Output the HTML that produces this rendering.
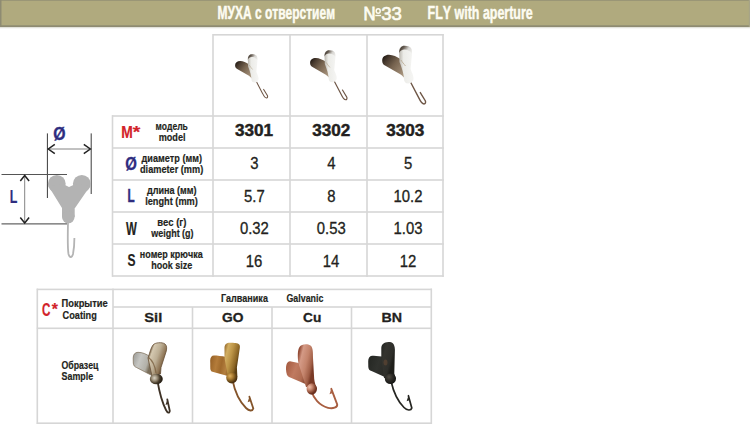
<!DOCTYPE html>
<html><head><meta charset="utf-8"><style>
html,body{margin:0;padding:0;background:#fff;}
svg{display:block;}
text{font-family:"Liberation Sans", sans-serif;font-kerning:none;}
</style></head><body>
<svg width="750" height="424" viewBox="0 0 750 424">
<rect x="0" y="0" width="750" height="424" fill="#ffffff"/>
<rect x="0" y="0" width="750" height="27" fill="#b0aa7e"/>
<rect x="0" y="0" width="750" height="1" fill="#9a9676"/>
<rect x="0" y="25.3" width="750" height="2" fill="#8e8b72"/><rect x="0" y="27.3" width="750" height="1" fill="#e4e4de"/>
<rect x="0" y="0" width="1.5" height="27" fill="#8e8b72"/>
<rect x="748.8" y="0" width="1.2" height="27" fill="#a7a488"/>
<rect x="213" y="34.0" width="230.8" height="1.6" fill="#d6d6d6"/>
<rect x="112" y="115.2" width="331.8" height="1.6" fill="#d6d6d6"/>
<rect x="112" y="147.2" width="331.8" height="1.6" fill="#d6d6d6"/>
<rect x="112" y="179.2" width="331.8" height="1.6" fill="#d6d6d6"/>
<rect x="112" y="211.2" width="331.8" height="1.6" fill="#d6d6d6"/>
<rect x="112" y="243.2" width="331.8" height="1.6" fill="#d6d6d6"/>
<rect x="112" y="275.2" width="331.8" height="1.6" fill="#d6d6d6"/>
<rect x="212.2" y="34" width="1.6" height="242.8" fill="#d6d6d6"/>
<rect x="289.2" y="34" width="1.6" height="242.8" fill="#d6d6d6"/>
<rect x="366.2" y="34" width="1.6" height="242.8" fill="#d6d6d6"/>
<rect x="442.2" y="34" width="1.6" height="242.8" fill="#d6d6d6"/>
<rect x="111.7" y="115.2" width="1.6" height="161.60000000000002" fill="#d6d6d6"/>
<rect x="36.8" y="288.59999999999997" width="395.2" height="1.6" fill="#d6d6d6"/>
<rect x="36.8" y="327.5" width="395.2" height="1.6" fill="#d6d6d6"/>
<rect x="36.8" y="422.4" width="395.2" height="1.6" fill="#d6d6d6"/>
<rect x="113" y="306.2" width="319" height="1.6" fill="#d6d6d6"/>
<rect x="36.5" y="288.6" width="1.6" height="135.39999999999998" fill="#d6d6d6"/>
<rect x="112.2" y="288.6" width="1.6" height="135.39999999999998" fill="#d6d6d6"/>
<rect x="430.5" y="288.6" width="1.6" height="135.39999999999998" fill="#d6d6d6"/>
<rect x="191.7" y="307" width="1.6" height="117" fill="#d6d6d6"/>
<rect x="271.2" y="307" width="1.6" height="117" fill="#d6d6d6"/>
<rect x="350.7" y="307" width="1.6" height="117" fill="#d6d6d6"/>

<g stroke="#3a3a3a" fill="none">
<line x1="47.4" y1="133.4" x2="47.4" y2="198" stroke-width="1"/>
<line x1="91.2" y1="133.4" x2="91.2" y2="194" stroke-width="1"/>
<line x1="48" y1="149" x2="90.6" y2="149" stroke="#777" stroke-width="0.9"/>
<polyline points="54.8,144.4 48.3,149 54.8,153.6" stroke-width="1.5" stroke="#222"/>
<polyline points="83.8,144.4 90.3,149 83.8,153.6" stroke-width="1.5" stroke="#222"/>
<line x1="1.5" y1="174.5" x2="67" y2="174.5" stroke="#555" stroke-width="1"/>
<line x1="1.5" y1="223.9" x2="67" y2="223.9" stroke="#666" stroke-width="1.2"/>
<line x1="24.7" y1="175.2" x2="24.7" y2="223" stroke="#777" stroke-width="0.9"/>
<polyline points="20.3,181 24.7,175.5 29.1,181" stroke-width="1.5" stroke="#222"/>
<polyline points="20.3,217.5 24.7,223 29.1,217.5" stroke-width="1.5" stroke="#222"/>
</g>
<g fill="#b3b3b3"><circle cx="56.8" cy="183.8" r="8.9"/><circle cx="81.8" cy="183.8" r="8.9"/>
<polygon points="48.1,185.5 64,184.5 69,187 74.5,184.5 90.5,185.5 75,208 62,208"/>
<rect x="62" y="203" width="12.7" height="14"/><circle cx="68.3" cy="217" r="6.3"/></g>
<path d="M68,223 C67.7,235 67.5,248 68.5,254 C69.5,258 72,258 73,254 C74,249 74.4,243 74.4,238" fill="none" stroke="#b4b4b4" stroke-width="1.8"/>

<defs><linearGradient id="g1" gradientUnits="userSpaceOnUse" x1="133" y1="360" x2="150" y2="366"><stop offset="0" stop-color="#a4a4a0"/><stop offset="0.35" stop-color="#c6c6c2"/><stop offset="0.8" stop-color="#b2b0a8"/><stop offset="1" stop-color="#7a6e5a"/></linearGradient>
<linearGradient id="g2" gradientUnits="userSpaceOnUse" x1="150" y1="350" x2="167" y2="356"><stop offset="0" stop-color="#6a5438"/><stop offset="0.15" stop-color="#d4c8b0"/><stop offset="0.5" stop-color="#bcae94"/><stop offset="0.85" stop-color="#8a7050"/><stop offset="1" stop-color="#4e3a24"/></linearGradient>
<radialGradient id="g3" gradientUnits="userSpaceOnUse" cx="154.5" cy="378" r="7"><stop offset="0" stop-color="#d8d2c4"/><stop offset="0.4" stop-color="#9a8e78"/><stop offset="0.75" stop-color="#4a3e2c"/><stop offset="1" stop-color="#2a2218"/></radialGradient>
<linearGradient id="g4" gradientUnits="userSpaceOnUse" x1="210" y1="364" x2="230" y2="368"><stop offset="0" stop-color="#9a6428"/><stop offset="0.3" stop-color="#b47c3a"/><stop offset="0.55" stop-color="#a06a2c"/><stop offset="0.8" stop-color="#b48040"/><stop offset="1" stop-color="#8a5a20"/></linearGradient>
<linearGradient id="g5" gradientUnits="userSpaceOnUse" x1="224" y1="350" x2="240" y2="354"><stop offset="0" stop-color="#9a7030"/><stop offset="0.2" stop-color="#d2ae62"/><stop offset="0.5" stop-color="#bc9446"/><stop offset="0.85" stop-color="#8a6424"/><stop offset="1" stop-color="#5a3e12"/></linearGradient>
<radialGradient id="g6" gradientUnits="userSpaceOnUse" cx="230" cy="376" r="7"><stop offset="0" stop-color="#dcb060"/><stop offset="0.45" stop-color="#a87a30"/><stop offset="0.8" stop-color="#6a4a18"/><stop offset="1" stop-color="#4a3010"/></radialGradient>
<linearGradient id="g7" gradientUnits="userSpaceOnUse" x1="286" y1="368" x2="307" y2="376"><stop offset="0" stop-color="#a85e44"/><stop offset="0.4" stop-color="#c07a60"/><stop offset="0.8" stop-color="#b06c52"/><stop offset="1" stop-color="#8a4a34"/></linearGradient>
<linearGradient id="g8" gradientUnits="userSpaceOnUse" x1="298" y1="356" x2="315" y2="360"><stop offset="0" stop-color="#944c36"/><stop offset="0.2" stop-color="#d49a86"/><stop offset="0.55" stop-color="#c4846c"/><stop offset="0.85" stop-color="#a05e46"/><stop offset="1" stop-color="#7a3a26"/></linearGradient>
<radialGradient id="g9" gradientUnits="userSpaceOnUse" cx="309.5" cy="387" r="7"><stop offset="0" stop-color="#eec0ac"/><stop offset="0.4" stop-color="#c88870"/><stop offset="0.8" stop-color="#8a4a34"/><stop offset="1" stop-color="#6a3020"/></radialGradient>
<linearGradient id="g10" gradientUnits="userSpaceOnUse" x1="368" y1="364" x2="386" y2="370"><stop offset="0" stop-color="#262824"/><stop offset="0.5" stop-color="#30322e"/><stop offset="1" stop-color="#2a2a26"/></linearGradient>
<linearGradient id="g11" gradientUnits="userSpaceOnUse" x1="381" y1="350" x2="395" y2="354"><stop offset="0" stop-color="#262824"/><stop offset="0.3" stop-color="#34342f"/><stop offset="0.8" stop-color="#2e2e2a"/><stop offset="1" stop-color="#1e1e1a"/></linearGradient>
<radialGradient id="g12" gradientUnits="userSpaceOnUse" cx="389" cy="377" r="7"><stop offset="0" stop-color="#4e4a42"/><stop offset="0.5" stop-color="#2e2c28"/><stop offset="1" stop-color="#161614"/></radialGradient>
<linearGradient id="g13" gradientUnits="userSpaceOnUse" x1="383" y1="57" x2="406" y2="75"><stop offset="0" stop-color="#221a14"/><stop offset="0.18" stop-color="#4a3c30"/><stop offset="0.45" stop-color="#76634f"/><stop offset="0.8" stop-color="#9a8670"/><stop offset="1" stop-color="#b4a48c"/></linearGradient>
<linearGradient id="g14" gradientUnits="userSpaceOnUse" x1="399" y1="47" x2="411" y2="55"><stop offset="0" stop-color="#2a221c"/><stop offset="0.3" stop-color="#6a6056"/><stop offset="0.6" stop-color="#d6d4d0"/><stop offset="1" stop-color="#f2f2f0"/></linearGradient>
<linearGradient id="g15" gradientUnits="userSpaceOnUse" x1="399" y1="60" x2="412" y2="60"><stop offset="0" stop-color="#b8b4ac"/><stop offset="0.35" stop-color="#ecece8"/><stop offset="1" stop-color="#f4f4f2"/></linearGradient></defs><path d="M157.5,381 C159,390 162,402 166,410 C167.5,413 169.5,413.5 169.8,411 L167.3,399.4" fill="none" stroke="#3e3226" stroke-width="1.8" stroke-linecap="round"/><path d="M167.3,399.4 L165.5,404.9 L168.10000000000002,403.9 Z" fill="#3e3226"/>
<path d="M150,357 C147,354 142,352.3 138,352.3 C135,352.3 133.2,354.5 133.2,358 L133.3,363 C133.5,365.5 134.5,366.8 136.5,367.5 L148.6,373.8 L153,376 Z" fill="url(#g1)" stroke="#7a6a54" stroke-width="0.7"/>
<path d="M148,358 C150,352 151,347.5 153,345 C155,342.5 162,341.8 165,344 C167,345.5 166.8,348.5 166.3,351 L161,367.5 L160.5,374 L152,376 Z" fill="url(#g2)" stroke="#6a5238" stroke-width="0.8"/>
<path d="M148.5,357.5 C152,360 155,366 156,373" fill="none" stroke="#7a6040" stroke-width="1.2" opacity="0.8"/>
<ellipse cx="156.3" cy="379" rx="6.5" ry="5.2" fill="url(#g3)"/>
<path d="M232.5,380 C234.5,390 239,401 246,408 C249,411 252.5,411.5 253.3,408.5 L249.4,396.7" fill="none" stroke="#84542a" stroke-width="1.8" stroke-linecap="round"/><path d="M249.4,396.7 L247.6,402.2 L250.20000000000002,401.2 Z" fill="#84542a"/>
<path d="M226,357 C222,356 217,355.5 214,355.5 C211.5,355.5 210.2,357.5 210.2,360.5 L210.3,368.5 C210.5,370.5 211.2,371.4 212.5,371.8 L226.8,375.8 L230,376 Z" fill="url(#g4)"/>
<path d="M224.5,358 L224.5,348 C224.5,344.5 226.5,342.8 230,342.8 C234,342.8 238,343 239.2,344.5 C240,345.5 240,346.5 239.8,348 L236.9,367.5 L237.4,377 L228,377 Z" fill="url(#g5)"/>
<ellipse cx="231.8" cy="377.8" rx="5.6" ry="5.6" fill="url(#g6)"/>
<path d="M311.5,391 C313.5,398 319,405.5 328,407.8 C333,409 337.5,407.5 337.2,404.5 L331.3,388.8" fill="none" stroke="#a85e40" stroke-width="1.9" stroke-linecap="round"/><path d="M331.3,388.8 L329.5,394.3 L332.1,393.3 Z" fill="#a85e40"/>
<path d="M298.5,363 L290,361.3 C287,361.5 285.8,365 286,369.5 C286.2,373 287,376 289,377 L306.6,384.5 L310,380 Z" fill="url(#g7)"/>
<path d="M298.4,363 C297.5,356 297.5,350 299.5,347 C301.5,344 307,343.2 310.5,345.5 C313,347.5 313,352 313,358 L314.2,379 C314.6,383 316,386 317,389 L306,387 Z" fill="url(#g8)"/>
<ellipse cx="311.8" cy="389" rx="5.2" ry="5.8" fill="url(#g9)"/>
<path d="M391,381 C393,390 397.5,401 404,407.5 C407,410.5 411,411 411.8,408 L408.4,395.7" fill="none" stroke="#262622" stroke-width="1.7" stroke-linecap="round"/><path d="M408.4,395.7 L406.59999999999997,401.2 L409.2,400.2 Z" fill="#262622"/>
<path d="M382,356.5 C378,356 374,355.8 372,355.8 C369.5,356 368.2,358.5 368.2,361.5 L368.3,367 C368.5,369.5 369.5,370.5 371.5,371 L384.8,377 L388,376 Z" fill="url(#g10)"/>
<path d="M381.3,358 L381.3,348 C381.5,344.5 384,342.3 388.4,342.1 C392,342 394.8,343.5 394.9,349.8 L394.3,373.4 L396,379 L384,378 Z" fill="url(#g11)"/>
<ellipse cx="385.5" cy="362.5" rx="2" ry="3" fill="#6a4a34" opacity="0.55"/>
<ellipse cx="390.4" cy="378.7" rx="5.6" ry="5.3" fill="url(#g12)"/>
<g transform="translate(254.6,82.6) scale(0.75) translate(-408.2,-83.5)"><path d="M410.5,82 L418.8,97.9 C420.5,101.5 422.5,104 424,104 C425.5,104 425.8,102.5 425.4,101 L420.3,92.6" fill="none" stroke="#6e5646" stroke-width="1.4" stroke-linecap="round"/>
<path d="M400.5,59 C397,57 393,54.8 389,54.8 C385,54.8 382.2,57 382.2,60.5 C382.2,63 383,64.5 385,65.5 L400.7,74.5 C402.5,76 404,77.5 405.2,78.5 L407,68 Z" fill="url(#g13)"/>
<path d="M399.5,62 L399.1,51 C399.2,47.5 401.5,45.8 404.4,45.8 C408,45.8 410.5,46.5 411.5,49 C412.3,51.5 412,54 411.8,56 L410.6,69 C411.5,72 413.5,75 413.5,78.3 C413.5,81.5 411,83.5 408.2,83.5 C405.5,83.5 404,81.5 404,79 C404,75 402,68 399.5,62 Z" fill="url(#g15)"/>
<path d="M399.2,53 C399.2,48.5 401.5,45.8 404.4,45.8 C408,45.8 410.5,46.5 411.5,49 C412,50.5 412,52 411.9,53.5 C410,50.5 407,49.5 404.5,49.5 C402,49.5 400,51 399.2,53 Z" fill="url(#g14)"/>
<path d="M401,60 C402,62 404,64 405.5,66" stroke="#b8a890" stroke-width="1" fill="none" opacity="0.8"/></g>
<g transform="translate(332.2,82.3) scale(0.85) translate(-408.2,-83.5)"><path d="M410.5,82 L418.8,97.9 C420.5,101.5 422.5,104 424,104 C425.5,104 425.8,102.5 425.4,101 L420.3,92.6" fill="none" stroke="#6e5646" stroke-width="1.4" stroke-linecap="round"/>
<path d="M400.5,59 C397,57 393,54.8 389,54.8 C385,54.8 382.2,57 382.2,60.5 C382.2,63 383,64.5 385,65.5 L400.7,74.5 C402.5,76 404,77.5 405.2,78.5 L407,68 Z" fill="url(#g13)"/>
<path d="M399.5,62 L399.1,51 C399.2,47.5 401.5,45.8 404.4,45.8 C408,45.8 410.5,46.5 411.5,49 C412.3,51.5 412,54 411.8,56 L410.6,69 C411.5,72 413.5,75 413.5,78.3 C413.5,81.5 411,83.5 408.2,83.5 C405.5,83.5 404,81.5 404,79 C404,75 402,68 399.5,62 Z" fill="url(#g15)"/>
<path d="M399.2,53 C399.2,48.5 401.5,45.8 404.4,45.8 C408,45.8 410.5,46.5 411.5,49 C412,50.5 412,52 411.9,53.5 C410,50.5 407,49.5 404.5,49.5 C402,49.5 400,51 399.2,53 Z" fill="url(#g14)"/>
<path d="M401,60 C402,62 404,64 405.5,66" stroke="#b8a890" stroke-width="1" fill="none" opacity="0.8"/></g>
<g transform="translate(408.2,83.5) scale(1.0) translate(-408.2,-83.5)"><path d="M410.5,82 L418.8,97.9 C420.5,101.5 422.5,104 424,104 C425.5,104 425.8,102.5 425.4,101 L420.3,92.6" fill="none" stroke="#6e5646" stroke-width="1.4" stroke-linecap="round"/>
<path d="M400.5,59 C397,57 393,54.8 389,54.8 C385,54.8 382.2,57 382.2,60.5 C382.2,63 383,64.5 385,65.5 L400.7,74.5 C402.5,76 404,77.5 405.2,78.5 L407,68 Z" fill="url(#g13)"/>
<path d="M399.5,62 L399.1,51 C399.2,47.5 401.5,45.8 404.4,45.8 C408,45.8 410.5,46.5 411.5,49 C412.3,51.5 412,54 411.8,56 L410.6,69 C411.5,72 413.5,75 413.5,78.3 C413.5,81.5 411,83.5 408.2,83.5 C405.5,83.5 404,81.5 404,79 C404,75 402,68 399.5,62 Z" fill="url(#g15)"/>
<path d="M399.2,53 C399.2,48.5 401.5,45.8 404.4,45.8 C408,45.8 410.5,46.5 411.5,49 C412,50.5 412,52 411.9,53.5 C410,50.5 407,49.5 404.5,49.5 C402,49.5 400,51 399.2,53 Z" fill="url(#g14)"/>
<path d="M401,60 C402,62 404,64 405.5,66" stroke="#b8a890" stroke-width="1" fill="none" opacity="0.8"/></g>
<text transform="translate(217.60,19.20) scale(0.6880,1)" font-size="17.44" font-weight="bold" font-style="normal" fill="#fdfcf2" stroke="#fdfcf2" stroke-width="0.45">МУХА с отверстием</text>
<text transform="translate(363.43,19.50) scale(0.9545,1)" font-size="17.44" font-weight="normal" font-style="normal" fill="#fdfcf2" stroke="#fdfcf2" stroke-width="0.8">N</text>
<text transform="translate(381.19,19.60) scale(1.0662,1)" font-size="17.48" font-weight="normal" font-style="normal" fill="#fdfcf2" stroke="#fdfcf2" stroke-width="0.6">33</text>
<ellipse cx="378.2" cy="11.0" rx="2.0" ry="2.3" fill="none" stroke="#fdfcf2" stroke-width="1.5"/><rect x="375.3" y="14.8" width="5.8" height="1.4" fill="#fdfcf2"/>
<text transform="translate(427.57,19.20) scale(0.7146,1)" font-size="17.44" font-weight="bold" font-style="normal" fill="#fdfcf2" stroke="#fdfcf2" stroke-width="0.45">FLY with aperture</text>
<text transform="translate(53.35,140.30) scale(0.8555,1)" font-size="18.49" font-weight="bold" font-style="normal" fill="#2e2d7f" stroke="#2e2d7f" stroke-width="0.35">Ø</text>
<text transform="translate(9.77,203.20) scale(0.7033,1)" font-size="17.73" font-weight="bold" font-style="normal" fill="#2e2d7f" stroke="#2e2d7f" stroke-width="0.2">L</text>
<text transform="translate(121.37,138.30) scale(0.8088,1)" font-size="17.15" font-weight="bold" font-style="normal" fill="#d2232a" stroke="#d2232a" stroke-width="0.2">M</text>
<text transform="translate(132.84,137.95) scale(1.1495,1)" font-size="16.94" font-weight="bold" fill="#d2232a" stroke="#d2232a" stroke-width="0.2">*</text>
<text transform="translate(155.40,130.00) scale(0.7254,1)" font-size="11.80" font-weight="bold" fill="#231f20" stroke="#231f20" stroke-width="0.2">модель</text>
<text transform="translate(158.70,140.80) scale(0.7726,1)" font-size="11.80" font-weight="bold" fill="#231f20" stroke="#231f20" stroke-width="0.2">model</text>
<text transform="translate(125.29,170.20) scale(0.8028,1)" font-size="18.63" font-weight="bold" font-style="normal" fill="#2e2d7f" stroke="#2e2d7f" stroke-width="0.3">Ø</text>
<text transform="translate(141.54,162.00) scale(0.7741,1)" font-size="11.80" font-weight="bold" fill="#231f20" stroke="#231f20" stroke-width="0.2">диаметр (мм)</text>
<text transform="translate(140.02,172.80) scale(0.7777,1)" font-size="11.80" font-weight="bold" fill="#231f20" stroke="#231f20" stroke-width="0.2">diameter (mm)</text>
<text transform="translate(127.62,202.40) scale(0.6703,1)" font-size="17.44" font-weight="bold" font-style="normal" fill="#2e2d7f" stroke="#2e2d7f" stroke-width="0.5">L</text>
<text transform="translate(146.94,194.00) scale(0.7705,1)" font-size="11.80" font-weight="bold" fill="#231f20" stroke="#231f20" stroke-width="0.2">длина (мм)</text>
<text transform="translate(145.16,204.80) scale(0.7806,1)" font-size="11.80" font-weight="bold" fill="#231f20" stroke="#231f20" stroke-width="0.2">lenght (mm)</text>
<text transform="translate(125.99,235.00) scale(0.6574,1)" font-size="17.44" font-weight="bold" font-style="normal" fill="#231f20" stroke="#231f20" stroke-width="0.2">W</text>
<text transform="translate(157.14,226.00) scale(0.8053,1)" font-size="11.80" font-weight="bold" fill="#231f20" stroke="#231f20" stroke-width="0.2">вес (г)</text>
<text transform="translate(151.23,236.80) scale(0.7615,1)" font-size="11.80" font-weight="bold" fill="#231f20" stroke="#231f20" stroke-width="0.2">weight (g)</text>
<text transform="translate(127.45,266.40) scale(0.7361,1)" font-size="16.33" font-weight="bold" font-style="normal" fill="#231f20" stroke="#231f20" stroke-width="0.15">S</text>
<text transform="translate(139.77,258.00) scale(0.7621,1)" font-size="11.80" font-weight="bold" fill="#231f20" stroke="#231f20" stroke-width="0.2">номер крючка</text>
<text transform="translate(151.17,268.80) scale(0.7651,1)" font-size="11.80" font-weight="bold" fill="#231f20" stroke="#231f20" stroke-width="0.2">hook size</text>
<text transform="translate(235.01,136.10) scale(1.0325,1)" font-size="16.62" font-weight="bold" font-style="normal" fill="#231f20" stroke="#231f20" stroke-width="0.45">3301</text>
<text transform="translate(312.26,136.10) scale(1.0325,1)" font-size="16.62" font-weight="bold" fill="#231f20" stroke="#231f20" stroke-width="0.45">3302</text>
<text transform="translate(386.23,136.10) scale(1.0325,1)" font-size="16.62" font-weight="bold" fill="#231f20" stroke="#231f20" stroke-width="0.45">3303</text>
<text transform="translate(250.20,168.50) scale(0.9546,1)" font-size="15.60" font-weight="normal" fill="#231f20" stroke="#231f20" stroke-width="0.3">3</text>
<text transform="translate(327.21,168.50) scale(0.9546,1)" font-size="15.60" font-weight="normal" fill="#231f20" stroke="#231f20" stroke-width="0.3">4</text>
<text transform="translate(404.07,168.50) scale(0.9546,1)" font-size="15.60" font-weight="normal" fill="#231f20" stroke="#231f20" stroke-width="0.3">5</text>
<text transform="translate(244.03,201.50) scale(0.9546,1)" font-size="15.60" font-weight="normal" fill="#231f20" stroke="#231f20" stroke-width="0.3">5.7</text>
<text transform="translate(327.16,201.50) scale(0.9546,1)" font-size="15.60" font-weight="normal" fill="#231f20" stroke="#231f20" stroke-width="0.3">8</text>
<text transform="translate(393.52,201.50) scale(0.9546,1)" font-size="15.60" font-weight="normal" fill="#231f20" stroke="#231f20" stroke-width="0.3">10.2</text>
<text transform="translate(239.89,233.80) scale(0.9546,1)" font-size="15.60" font-weight="normal" fill="#231f20" stroke="#231f20" stroke-width="0.3">0.32</text>
<text transform="translate(316.84,233.80) scale(0.9546,1)" font-size="15.60" font-weight="normal" fill="#231f20" stroke="#231f20" stroke-width="0.3">0.53</text>
<text transform="translate(393.47,233.80) scale(0.9546,1)" font-size="15.60" font-weight="normal" fill="#231f20" stroke="#231f20" stroke-width="0.3">1.03</text>
<text transform="translate(245.78,266.90) scale(0.9546,1)" font-size="15.60" font-weight="normal" fill="#231f20" stroke="#231f20" stroke-width="0.3">16</text>
<text transform="translate(322.67,266.90) scale(0.9546,1)" font-size="15.60" font-weight="normal" fill="#231f20" stroke="#231f20" stroke-width="0.3">14</text>
<text transform="translate(399.73,266.90) scale(0.9546,1)" font-size="15.60" font-weight="normal" fill="#231f20" stroke="#231f20" stroke-width="0.3">12</text>
<text transform="translate(42.12,315.80) scale(0.6196,1)" font-size="18.76" font-weight="bold" font-style="normal" fill="#d2232a" stroke="#d2232a" stroke-width="0.2">C</text>
<text transform="translate(51.65,315.00) scale(0.9817,1)" font-size="16.13" font-weight="bold" fill="#d2232a" stroke="#d2232a" stroke-width="0.2">*</text>
<text transform="translate(61.58,307.40) scale(0.8186,1)" font-size="11.40" font-weight="bold" fill="#231f20" stroke="#231f20" stroke-width="0.2">Покрытие</text>
<text transform="translate(62.62,318.80) scale(0.8059,1)" font-size="11.40" font-weight="bold" fill="#231f20" stroke="#231f20" stroke-width="0.2">Coating</text>
<text transform="translate(220.90,301.70) scale(0.7774,1)" font-size="11.63" font-weight="bold" font-style="normal" fill="#231f20" stroke="#231f20" stroke-width="0.2">Галваника</text>
<text transform="translate(286.44,301.70) scale(0.7617,1)" font-size="11.63" font-weight="bold" font-style="normal" fill="#231f20" stroke="#231f20" stroke-width="0.2">Galvanic</text>
<text transform="translate(144.28,322.40) scale(1.0869,1)" font-size="13.52" font-weight="bold" font-style="normal" fill="#231f20" stroke="#231f20" stroke-width="0.3">Sil</text>
<text transform="translate(221.93,322.40) scale(1.0198,1)" font-size="13.52" font-weight="bold" font-style="normal" fill="#231f20" stroke="#231f20" stroke-width="0.3">GO</text>
<text transform="translate(303.04,322.40) scale(1.0137,1)" font-size="13.52" font-weight="bold" font-style="normal" fill="#231f20" stroke="#231f20" stroke-width="0.3">Cu</text>
<text transform="translate(381.55,322.40) scale(1.0560,1)" font-size="13.52" font-weight="bold" font-style="normal" fill="#231f20" stroke="#231f20" stroke-width="0.3">BN</text>
<text transform="translate(61.44,369.40) scale(0.7548,1)" font-size="11.60" font-weight="bold" fill="#231f20" stroke="#231f20" stroke-width="0.2">Образец</text>
<text transform="translate(61.54,380.30) scale(0.7648,1)" font-size="11.60" font-weight="bold" fill="#231f20" stroke="#231f20" stroke-width="0.2">Sample</text>
</svg>
</body></html>
